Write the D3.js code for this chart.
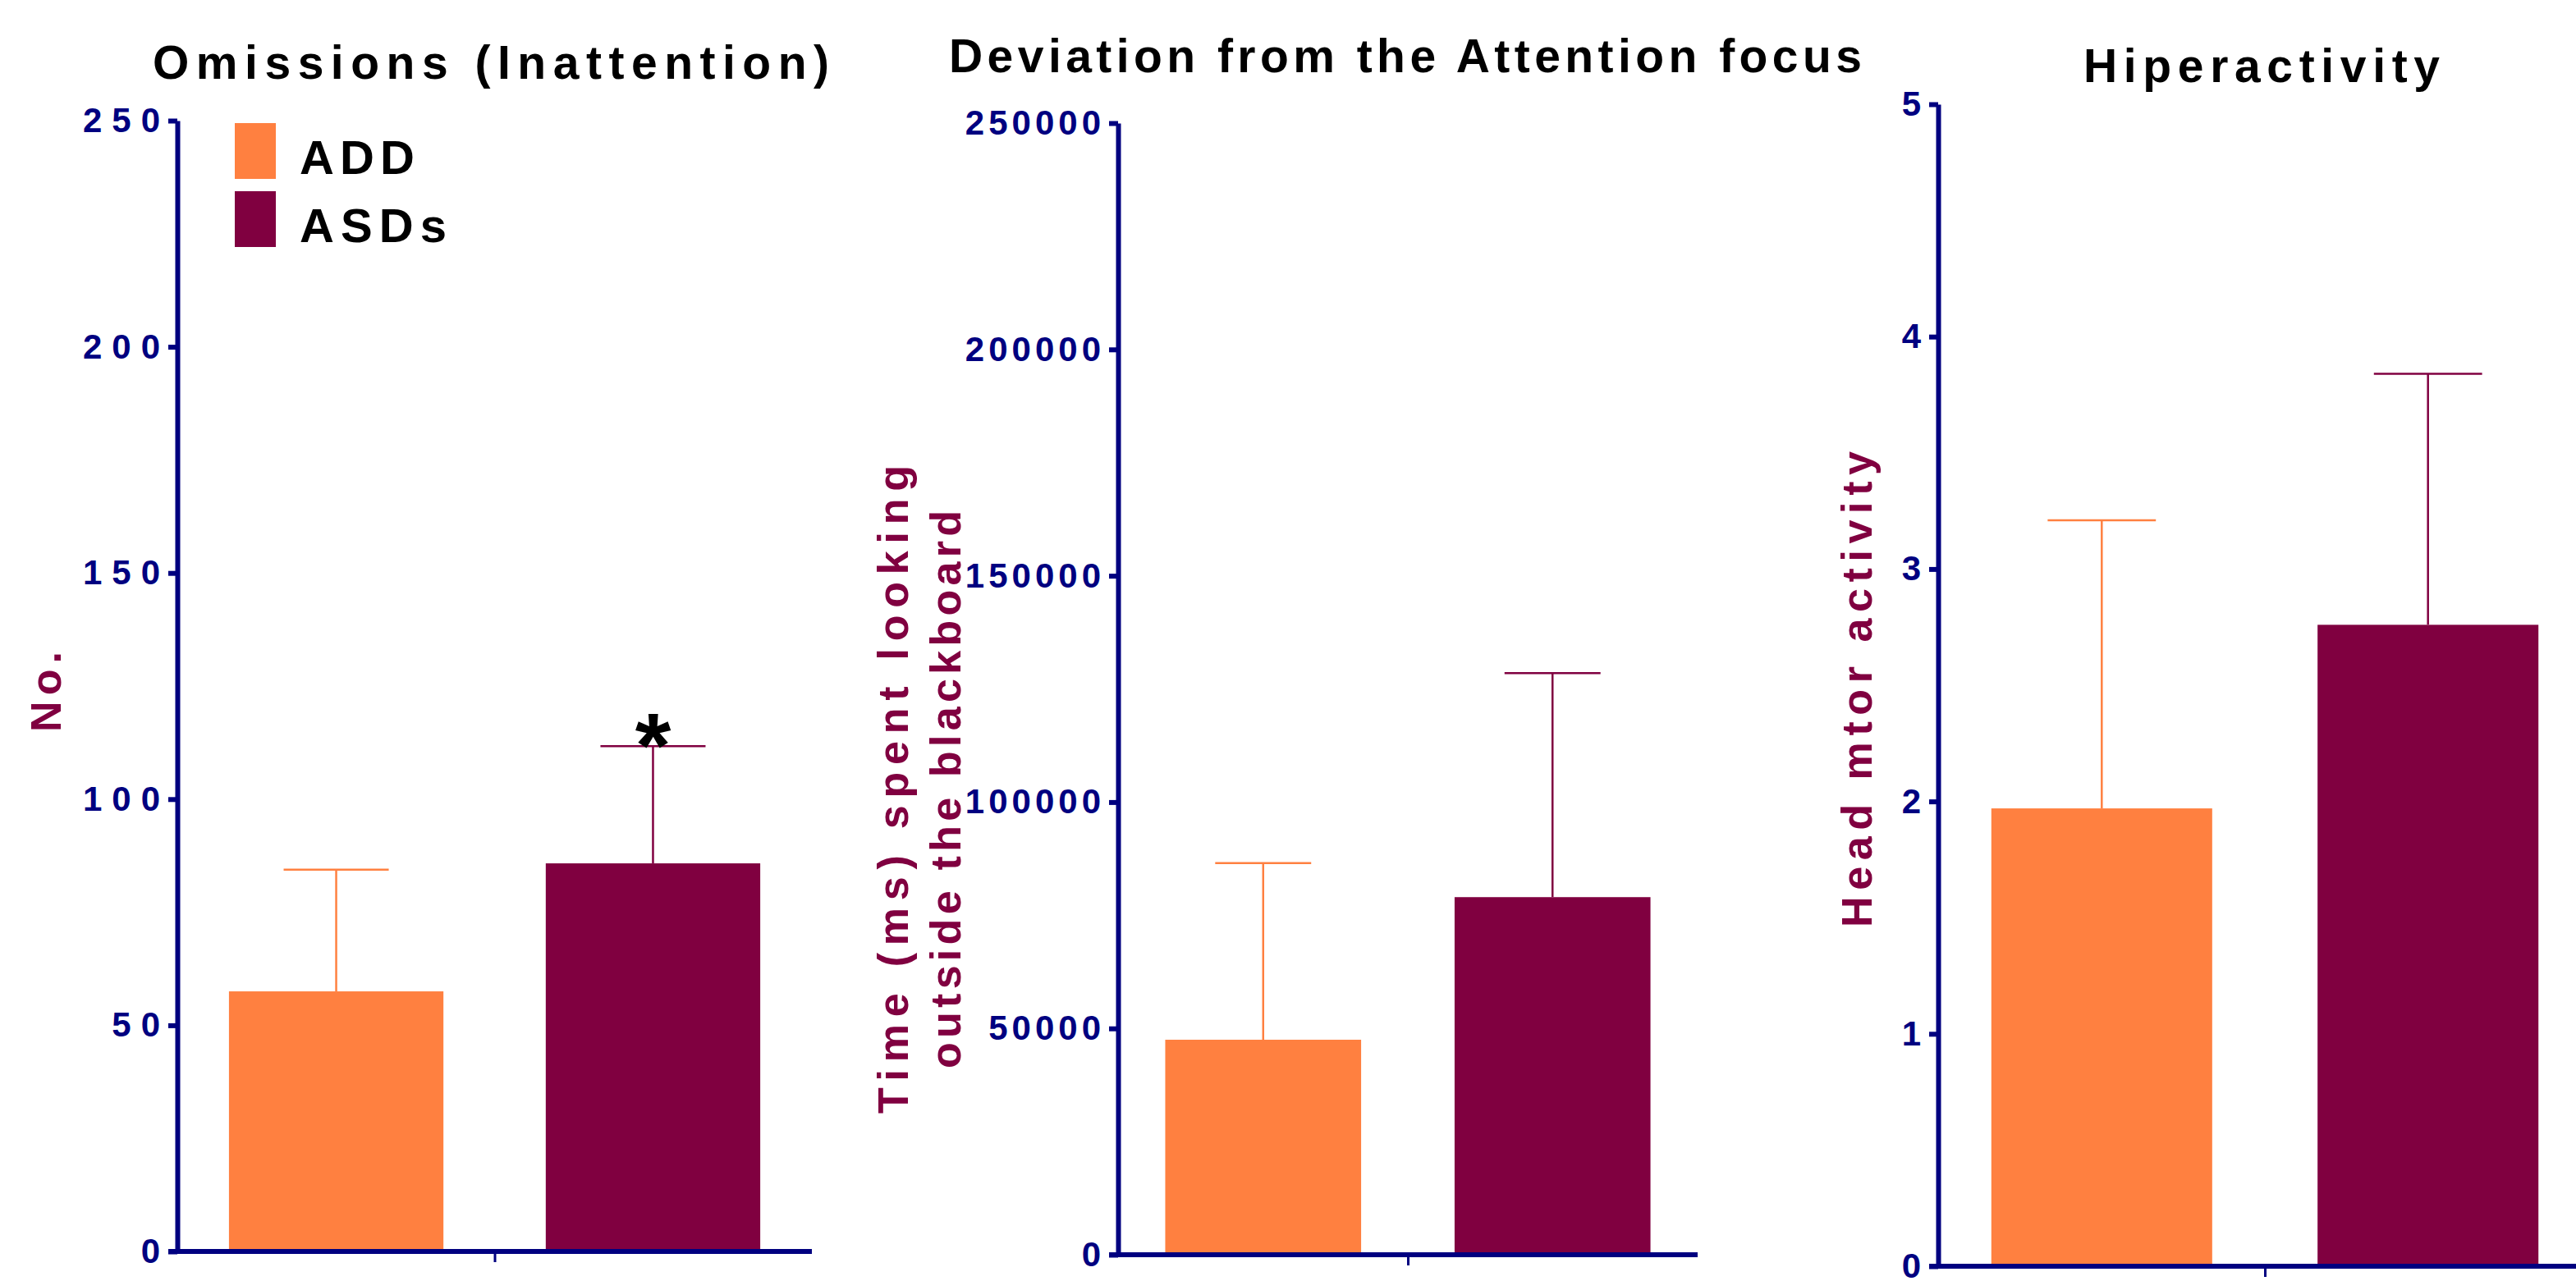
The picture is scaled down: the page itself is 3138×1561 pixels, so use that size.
<!DOCTYPE html>
<html>
<head>
<meta charset="utf-8">
<script src="https://cdn.jsdelivr.net/npm/d3@7"></script>
<style>
  body { margin: 0; background: #fff; }
  svg { display: block; font-family: "Liberation Sans", Arial, sans-serif; font-weight: bold; }
</style>
</head>
<body>
<svg id="viz" width="3138" height="1561"></svg>
<script>
const svg = d3.select("#viz");

// groups and colours
const groups = ["ADD", "ASDs"];
const groupColors = ["#FF8040", "#800040"];

// Omissions (Inattention)
const omissionsMean = [57.5, 85.8];
const omissionsErr = [26.9, 25.9];
const omissionsTicks = [0, 50, 100, 150, 200, 250];

// Deviation from the Attention focus
const deviationMean = [47500, 79000];
const deviationErr = [39000, 49500];
const deviationTicks = [0, 50000, 100000, 150000, 200000, 250000];

// Hiperactivity
const hyperMean = [1.97, 2.76];
const hyperErr = [1.24, 1.08];
const hyperTicks = [0, 1, 2, 3, 4, 5];

const navy = "#000080";
const maroon = "#800040";

const panels = [
  {
    title: "Omissions (Inattention)", titleX: 598, titleY: 96, titleLen: 824,
    ylabel: ["No."], ylabelX: [74], ylabelY: 843, ylabelLen: [98],
    mean: omissionsMean, err: omissionsErr, ticks: omissionsTicks,
    x0: 216, x1: 989, top: 147, bottom: 1525, tickSpacing: 12,
    star: [false, true]
  },
  {
    title: "Deviation from the Attention focus", titleX: 1712, titleY: 88, titleLen: 1112,
    ylabel: ["Time (ms) spent looking", "outside the blackboard"],
    ylabelX: [1106, 1170], ylabelY: 962, ylabelLen: [790, 680],
    mean: deviationMean, err: deviationErr, ticks: deviationTicks,
    x0: 1362, x1: 2068, top: 150, bottom: 1529, tickSpacing: 5,
    star: [false, false]
  },
  {
    title: "Hiperactivity", titleX: 2755, titleY: 100, titleLen: 434,
    ylabel: ["Head mtor activity"], ylabelX: [2280], ylabelY: 840, ylabelLen: [580],
    mean: hyperMean, err: hyperErr, ticks: hyperTicks,
    x0: 2361, x1: 3157, top: 127, bottom: 1543, tickSpacing: 5,
    star: [false, false]
  }
];

panels.forEach(drawPanel);
drawLegend();

function drawPanel(p) {
  const g = svg.append("g");
  const yMax = d3.max(p.ticks);

  const y = d3.scaleLinear().domain([0, yMax]).range([p.bottom, p.top]);
  const x = d3.scaleBand().domain(groups).range([p.x0, p.x1])
    .paddingInner(0.323).paddingOuter(0.163);
  const color = d3.scaleOrdinal().domain(groups).range(groupColors);

  const rows = groups.map((k, i) => ({ key: k, mean: p.mean[i], err: p.err[i], star: p.star[i] }));

  // bars
  g.selectAll("rect.bar")
    .data(rows)
    .join("rect")
    .attr("class", "bar")
    .attr("x", d => x(d.key))
    .attr("y", d => y(d.mean))
    .attr("width", x.bandwidth())
    .attr("height", d => y(0) - y(d.mean))
    .attr("fill", d => color(d.key));

  // upper error bars
  const capW = x.bandwidth() * 0.49;
  const eb = g.selectAll("g.err").data(rows).join("g").attr("class", "err")
    .attr("stroke", d => color(d.key)).attr("stroke-width", 2.5);
  eb.append("line")
    .attr("x1", d => x(d.key) + x.bandwidth() / 2)
    .attr("x2", d => x(d.key) + x.bandwidth() / 2)
    .attr("y1", d => y(d.mean))
    .attr("y2", d => y(d.mean + d.err));
  eb.append("line")
    .attr("x1", d => x(d.key) + x.bandwidth() / 2 - capW / 2)
    .attr("x2", d => x(d.key) + x.bandwidth() / 2 + capW / 2)
    .attr("y1", d => y(d.mean + d.err))
    .attr("y2", d => y(d.mean + d.err));

  // significance star
  g.selectAll("text.star")
    .data(rows.filter(d => d.star))
    .join("text")
    .attr("class", "star")
    .attr("x", d => x(d.key) + x.bandwidth() / 2)
    .attr("y", d => y(d.mean + d.err) + 38)
    .attr("text-anchor", "middle")
    .attr("font-size", 112)
    .attr("fill", "#000")
    .text("*");

  // y axis
  const yAxis = g.append("g")
    .attr("transform", `translate(${p.x0},0)`)
    .call(d3.axisLeft(y).tickValues(p.ticks).tickFormat(d3.format("d"))
      .tickSize(11).tickSizeOuter(0).tickPadding(10));
  yAxis.select(".domain").attr("stroke", navy).attr("stroke-width", 6);
  yAxis.selectAll(".tick line").attr("stroke", navy).attr("stroke-width", 6);
  yAxis.selectAll(".tick text")
    .attr("fill", navy)
    .attr("font-size", 42)
    .attr("font-family", "'Liberation Sans', Arial, sans-serif")
    .attr("font-weight", "bold")
    .attr("dx", p.tickSpacing)
    .style("letter-spacing", p.tickSpacing + "px");

  // x axis with a single centre tick
  const xc = d3.scalePoint().domain(["all"]).range([p.x0, p.x1]).padding(0.5);
  const xAxis = g.append("g")
    .attr("transform", `translate(0,${p.bottom})`)
    .call(d3.axisBottom(xc).tickSize(13).tickSizeOuter(0).tickFormat(""));
  xAxis.select(".domain").attr("stroke", navy).attr("stroke-width", 6)
    .attr("d", `M${p.x0 - 11},0H${p.x1}`);
  xAxis.selectAll(".tick line").attr("stroke", navy).attr("stroke-width", 3);

  // title
  g.append("text")
    .attr("x", p.titleX)
    .attr("y", p.titleY)
    .attr("text-anchor", "middle")
    .attr("font-size", 57)
    .attr("textLength", p.titleLen)
    .attr("lengthAdjust", "spacing")
    .attr("fill", "#000")
    .text(p.title);

  // y label (one or two lines)
  p.ylabel.forEach((line, i) => {
    g.append("text")
      .attr("transform", `translate(${p.ylabelX[i]},${p.ylabelY}) rotate(-90)`)
      .attr("text-anchor", "middle")
      .attr("font-size", 52)
      .attr("textLength", p.ylabelLen[i])
      .attr("lengthAdjust", "spacing")
      .attr("fill", maroon)
      .text(line);
  });
}

function drawLegend() {
  const legendX = 286, legendY = 150;
  const lens = [140, 179];
  const lg = svg.append("g").attr("transform", `translate(${legendX},${legendY})`);
  groups.forEach((key, i) => {
    const item = lg.append("g").attr("transform", `translate(0,${i * 83})`);
    item.append("rect")
      .attr("width", 50)
      .attr("height", 68)
      .attr("fill", groupColors[i]);
    item.append("text")
      .attr("x", 79)
      .attr("y", 62)
      .attr("font-size", 58)
      .attr("textLength", lens[i])
      .attr("lengthAdjust", "spacing")
      .attr("fill", "#000")
      .text(key);
  });
}
</script>
</body>
</html>
